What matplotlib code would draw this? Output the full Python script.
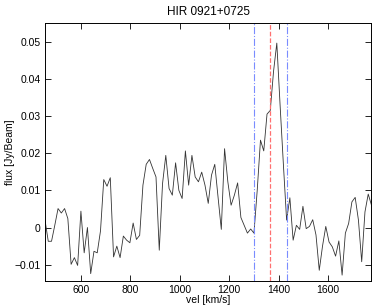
import numpy as np
import matplotlib
matplotlib.use('Agg')
import matplotlib.pyplot as plt

plt.rcParams['font.family'] = ['Liberation Sans', 'DejaVu Sans']

# channel grid of the spectrum [km/s]
v_start = 454.0
v_step = 13.22
flux = [0.0020, -0.0037, -0.0037, 0.0006, 0.0051, 0.0039, 0.0051, 0.0024, -0.0099, -0.0081,
        -0.0102, 0.0044, -0.0068, 0.0000, -0.0124, -0.0064, -0.0068, -0.0009, 0.0129, 0.0111,
        0.0134, -0.0079, -0.0050, -0.0081, -0.0023, -0.0034, -0.0041, 0.0012, -0.0032, -0.0021,
        0.0114, 0.0170, 0.0183, 0.0159, 0.0136, -0.0061, 0.0118, 0.0194, 0.0105, 0.0087,
        0.0174, 0.0100, 0.0078, 0.0206, 0.0114, 0.0194, 0.0136, 0.0123, 0.0149, 0.0114,
        0.0065, 0.0141, 0.0170, 0.0082, -0.0005, 0.0212, 0.0123, 0.0060, 0.0087, 0.0120,
        0.0027, 0.0006, -0.0015, -0.0004, -0.0015, 0.0100, 0.0235, 0.0206, 0.0305, 0.0315,
        0.0420, 0.0496, 0.0330, 0.0172, 0.0020, 0.0080, -0.0034, 0.0006, -0.0005, 0.0057,
        -0.0003, 0.0003, 0.0021, -0.0020, -0.0115, -0.0050, 0.0003, -0.0039, -0.0052, -0.0077,
        -0.0036, -0.0128, -0.0015, 0.0011, 0.0069, 0.0081, 0.0020, -0.0092, 0.0042, 0.0090,
        0.0060]
vel = v_start + v_step*np.arange(len(flux))

v_sys = 1367
v_lo = 1300
v_hi = 1432

xticks = [600, 800, 1000, 1200, 1400, 1600]
yticks = [-0.01, 0, 0.01, 0.02, 0.03, 0.04, 0.05]
ylabels = ['\u22120.01', '0', '0.01', '0.02', '0.03', '0.04', '0.05']

fig = plt.figure(figsize=(3.74, 3.07), dpi=100)
ax = fig.add_axes([0.1203, 0.0857, 0.8730, 0.8393])

ax.plot(vel, flux, color='#333333', linewidth=0.6)
ax.axvline(v_lo, color='#7a8cff', linestyle='-.', linewidth=0.8)
ax.axvline(v_hi, color='#7a8cff', linestyle='-.', linewidth=0.8)
ax.axvline(v_sys, color='#ff7070', linestyle='--', linewidth=0.9)

ax.set_xlim(vel[0], vel[-1])
ax.set_ylim(-0.0143, 0.055)
ax.set_xticks(xticks)
ax.set_yticks(yticks)
ax.set_yticklabels(ylabels)
ax.tick_params(direction='in', labelsize=7.5, length=4, width=0.6,
               top=True, right=True, pad=3)
for s in ax.spines.values():
    s.set_linewidth(0.7)

ax.set_title('HIR 0921+0725', fontsize=8.5, pad=6)
ax.set_xlabel('vel [km/s]', fontsize=7.5, labelpad=0)
ax.set_ylabel('flux [Jy/Beam]', fontsize=7.5)
ax.yaxis.set_label_coords(-0.093, 0.5)

fig.savefig('out.png', dpi=100)
